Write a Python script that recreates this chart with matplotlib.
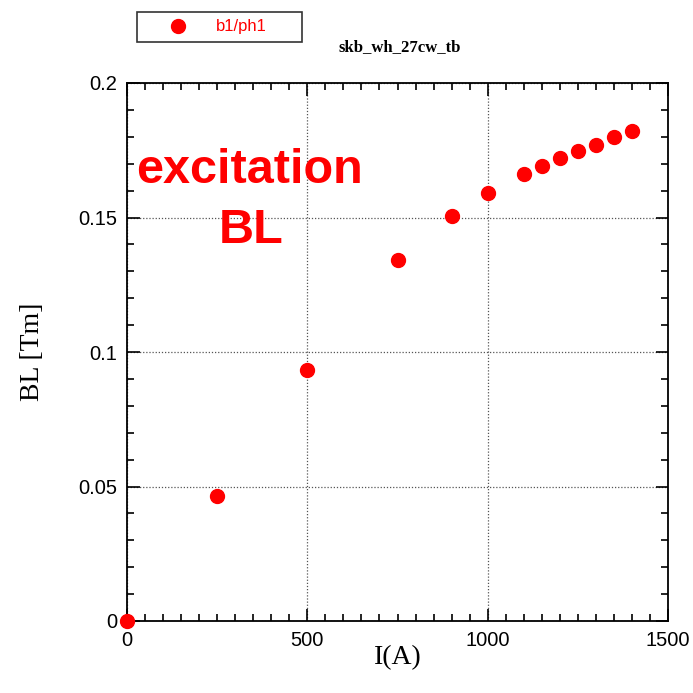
import matplotlib
matplotlib.use("Agg")
import matplotlib.pyplot as plt
from matplotlib.ticker import MultipleLocator

current = [0, 250, 500, 750, 900, 1000, 1100, 1150, 1200, 1250, 1300, 1350, 1400]
bl = [0.0, 0.0465, 0.0933, 0.1343, 0.1506, 0.1590, 0.1660, 0.1693, 0.1720, 0.1748, 0.1770, 0.1798, 0.1821]
series_label = "b1/ph1"
title = "skb_wh_27cw_tb"

fig = plt.figure(figsize=(6.93, 6.93), dpi=100)
ax = fig.add_axes([127/693, 1-621/693, (668-127)/693, (621-83)/693])

ax.plot(current, bl, 'o', color='#ff0000', markersize=10, clip_on=False, zorder=5, label=series_label)

ax.set_xlim(0, 1500)
ax.set_ylim(0, 0.2)
ax.xaxis.set_minor_locator(MultipleLocator(50))
ax.yaxis.set_minor_locator(MultipleLocator(0.01))
ax.set_xticks([0, 500, 1000, 1500])
ax.set_xticklabels(["0", "500", "1000", "1500"])
ax.set_yticks([0, 0.05, 0.1, 0.15, 0.2])
ax.set_yticklabels(["0", "0.05", "0.1", "0.15", "0.2"])
ax.tick_params(which='both', direction='in', top=True, right=True, labelsize=14.5, width=1.2)
ax.tick_params(which='major', length=9, pad=7)
ax.tick_params(which='minor', length=5)
for lab in ax.get_xticklabels() + ax.get_yticklabels():
    lab.set_fontfamily('Liberation Sans')
for s in ax.spines.values():
    s.set_linewidth(1.3)
ax.grid(True, which='major', linestyle=(0, (1, 1.5)), color='#555555', linewidth=0.9)

ax.set_xlabel("I(A)", fontfamily='Liberation Serif', fontsize=20, labelpad=-3)
ax.set_ylabel("BL [Tm]", fontfamily='Liberation Serif', fontsize=20, labelpad=24)

fig.text(400/693, 1-47/693, title, ha='center', va='center', fontfamily='Liberation Serif',
         fontweight='bold', fontsize=12)

fig.text(250/693, 1-183/693, "excitation", ha='center', va='baseline',
         color='#ff0000', fontweight='bold', fontfamily='Liberation Sans', fontsize=35)
fig.text(251/693, 1-243/693, "BL", ha='center', va='baseline',
         color='#ff0000', fontweight='bold', fontfamily='Liberation Sans', fontsize=35)

leg = fig.legend(loc='lower left', bbox_to_anchor=(137/693, 1-42/693, 165/693, 32/693),
                 mode='expand', borderaxespad=0, frameon=True, fancybox=False,
                 edgecolor='black', handlelength=4, handletextpad=0.3, borderpad=0.45,
                 prop={'family': 'Liberation Sans', 'size': 12})
leg.get_frame().set_linewidth(1.2)
for t in leg.get_texts():
    t.set_color('#ff0000')

fig.savefig("out.png", dpi=100)
